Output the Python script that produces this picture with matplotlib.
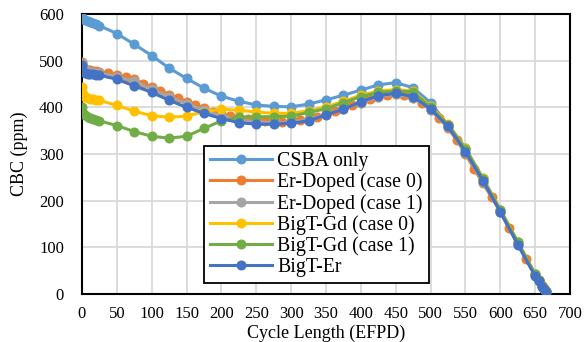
import matplotlib
matplotlib.use("Agg")
import matplotlib.pyplot as plt

x25 = [0, 2, 4, 8, 12, 16, 20, 25, 50, 75, 100, 125, 150, 175, 200, 225, 250, 275, 300,
       325, 350, 375, 400, 425, 450, 475, 500, 525, 550, 575, 600, 625, 650, 655, 660, 663, 665]
x12 = [0, 2, 4, 8, 12, 16, 20, 25, 37.5, 50, 62.5, 75, 87.5, 100, 112.5, 125, 137.5, 150,
       162.5, 175, 187.5, 200, 212.5, 225, 237.5, 250, 262.5, 275, 287.5, 300, 312.5, 325,
       337.5, 350, 362.5, 375, 387.5, 400, 412.5, 425, 437.5, 450, 462.5, 475, 487.5, 500,
       512.5, 525, 537.5, 550, 562.5, 575, 587.5, 600, 612.5, 625, 637.5, 650, 655, 660, 663, 665]

csba = [594, 590, 588, 585, 582, 580, 578, 575, 558, 535, 511, 484, 462, 441, 424, 413, 405, 402, 401,
        407, 416, 426, 437, 448, 453, 442, 410, 362, 313, 248, 180, 112, 42, 30, 18, 11, 6]
er0 = [498, 486, 482, 480, 479, 478, 477, 476, 473, 470, 465, 460, 451, 443, 436, 427, 420, 412,
       405, 398, 391, 385, 381, 377, 374, 372, 370, 369, 369, 370, 372, 376,
       380, 386, 392, 398, 404, 410, 417, 423, 426, 428, 427, 421, 410, 394,
       377, 355, 330, 300, 268, 237, 208, 176, 141, 108, 75, 42, 30, 18, 11, 6]
er1 = [495, 483, 479, 477, 476, 475, 474, 473, 466, 456, 439, 423, 408, 394, 381, 373, 369, 367, 368,
       374, 385, 397, 410, 423, 428, 421, 395, 357, 303, 240, 176, 107, 40, 29, 17, 10, 5]
gd0 = [443, 428, 423, 420, 418, 417, 416, 415, 404, 392, 382, 379, 381, 391, 396, 394, 390, 387, 387,
       393, 401, 413, 426, 435, 438, 435, 402, 365, 312, 248, 181, 112, 43, 31, 19, 12, 7]
gd1 = [400, 388, 383, 380, 377, 375, 373, 371, 361, 348, 338, 334, 338, 355, 371, 379, 380, 380, 381,
       389, 397, 410, 423, 432, 435, 433, 400, 363, 311, 247, 180, 111, 42, 30, 18, 11, 6]
bter = [490, 478, 474, 472, 471, 471, 470, 469, 460, 446, 432, 415, 400, 387, 376, 367, 364, 364, 366,
        371, 384, 396, 412, 425, 430, 423, 396, 359, 305, 243, 176, 106, 38, 27, 16, 10, 5]

labels = ["CSBA only", "Er-Doped (case 0)", "Er-Doped (case 1)",
          "BigT-Gd (case 0)", "BigT-Gd (case 1)", "BigT-Er"]
colors = ["#5B9BD5", "#ED7D31", "#A5A5A5", "#FFC000", "#70AD47", "#4472C4"]
series = [(x25, csba), (x12, er0), (x25, er1), (x25, gd0), (x25, gd1), (x25, bter)]

plt.rcParams['font.family'] = ['Liberation Serif', 'DejaVu Serif']

fig = plt.figure(figsize=(5.85, 3.42), dpi=100)
L, R, T, B = 82, 570, 14, 294
ax = fig.add_axes([L/585, (342-B)/342, (R-L)/585, (B-T)/342])

for (xs, ys), lab, c in zip(series, labels, colors):
    ax.plot(xs, ys, '-o', color=c, label=lab, lw=2.2, ms=6.2, zorder=3)

ax.set_xlim(0, 700)
ax.set_ylim(0, 600)
ax.set_xticks(range(0, 701, 50))
ax.set_yticks(range(0, 601, 100))
ax.grid(True, color='#d9d9d9', lw=1.3, zorder=0)
ax.set_axisbelow(True)
ax.tick_params(length=0, labelsize=12)
ax.tick_params(axis='x', pad=8.5)
ax.tick_params(axis='y', pad=13)
for s in ax.spines.values():
    s.set_linewidth(1.5)
    s.set_color('black')

ax.set_xlabel("Cycle Length (EFPD)", fontsize=13)
ax.set_ylabel("CBC (ppm)", fontsize=13)
ax.xaxis.set_label_coords(0.5, (B-333)/(B-T))
ax.xaxis.label.set_va('center')
ax.yaxis.set_label_coords((19-L)/(R-L), 0.5)
ax.yaxis.label.set_va('center')

leg = ax.legend(loc='upper left', bbox_to_anchor=((204-L)/(R-L), 1 - (146-T)/(B-T)),
                fontsize=14.3, frameon=True, fancybox=False, edgecolor='black',
                borderaxespad=0, handlelength=3.1, labelspacing=0.08, borderpad=0.3,
                handletextpad=0.3, framealpha=1)
leg.get_frame().set_linewidth(1.3)
leg.set_zorder(5)

fig.savefig("out.png", dpi=100)
